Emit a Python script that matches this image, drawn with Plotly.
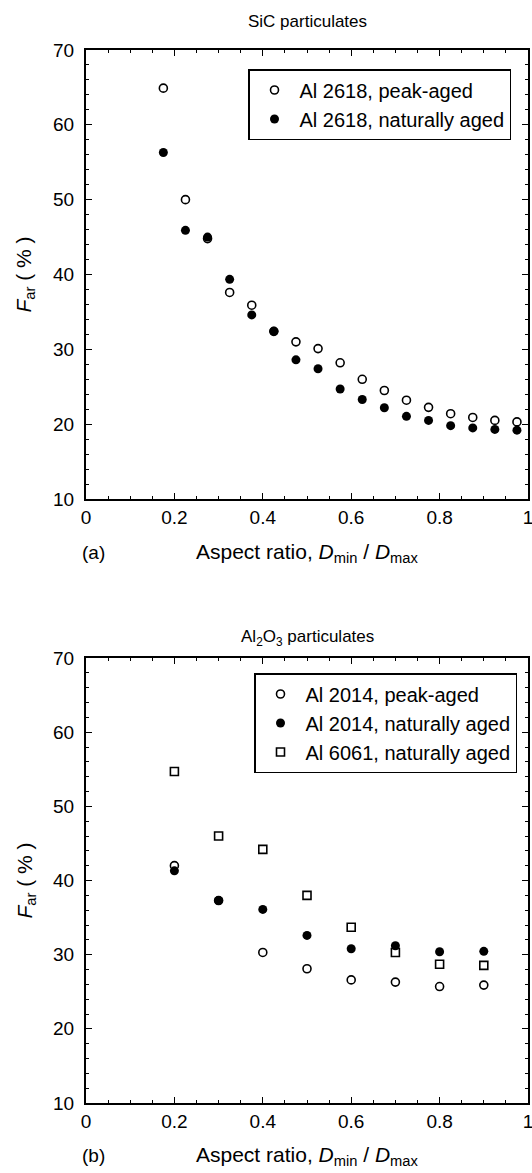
import plotly.graph_objects as go

# ---- Data (a) SiC particulates ----
x_a = [0.175, 0.225, 0.275, 0.325, 0.375, 0.425, 0.475, 0.525, 0.575,
       0.625, 0.675, 0.725, 0.775, 0.825, 0.875, 0.925, 0.975]
a_peak = [64.9, 50.0, 44.8, 37.6, 35.9, 32.4, 31.0, 30.1, 28.2,
          26.0, 24.5, 23.2, 22.25, 21.4, 20.9, 20.5, 20.3]
a_nat = [56.3, 45.9, 45.0, 39.35, 34.6, 32.4, 28.6, 27.4, 24.7,
         23.3, 22.2, 21.05, 20.5, 19.8, 19.5, 19.3, 19.2]

# ---- Data (b) Al2O3 particulates ----
x_b = [0.2, 0.3, 0.4, 0.5, 0.6, 0.7, 0.8, 0.9]
b_2014_peak = [42.0, 37.3, 30.3, 28.1, 26.6, 26.3, 25.7, 25.9]
b_2014_nat = [41.3, 37.3, 36.1, 32.6, 30.8, 31.2, 30.4, 30.45]
b_6061_nat = [54.7, 46.0, 44.2, 38.0, 33.7, 30.3, 28.7, 28.55]

x_ticks = [0, 0.2, 0.4, 0.6, 0.8, 1.0]
x_ticktext = ["0", "0.2", "0.4", "0.6", "0.8", "1"]
y_ticks = [10, 20, 30, 40, 50, 60, 70]

FONT = "Liberation Sans, Arial, Helvetica, sans-serif"
W, H = 532, 1173

fig = go.Figure()

open_marker = dict(symbol="circle-open", size=8, color="black", line=dict(width=1.6, color="black"))
fill_marker = dict(symbol="circle", size=9, color="black", line=dict(width=0))
sq_marker = dict(symbol="square-open", size=8, color="black", line=dict(width=1.6, color="black"))

fig.add_trace(go.Scatter(x=x_a, y=a_peak, mode="markers", marker=open_marker,
                         name="Al 2618, peak-aged", xaxis="x", yaxis="y", legend="legend"))
fig.add_trace(go.Scatter(x=x_a, y=a_nat, mode="markers", marker=fill_marker,
                         name="Al 2618, naturally aged", xaxis="x", yaxis="y", legend="legend"))

fig.add_trace(go.Scatter(x=x_b, y=b_2014_peak, mode="markers", marker=open_marker,
                         name="Al 2014, peak-aged", xaxis="x2", yaxis="y2", legend="legend2"))
fig.add_trace(go.Scatter(x=x_b, y=b_2014_nat, mode="markers", marker=fill_marker,
                         name="Al 2014, naturally aged", xaxis="x2", yaxis="y2", legend="legend2"))
fig.add_trace(go.Scatter(x=x_b, y=b_6061_nat, mode="markers", marker=sq_marker,
                         name="Al 6061, naturally aged", xaxis="x2", yaxis="y2", legend="legend2"))

def px_y(p):
    return 1 - p / H

def px_x(p):
    return p / W

L_PX, R_PX = 86, 528
xdom = [px_x(L_PX), px_x(R_PX)]
top_dom = [px_y(499), px_y(50)]
bot_dom = [px_y(1103), px_y(658)]
xmid = (xdom[0] + xdom[1]) / 2

xtitle = "Aspect ratio, <i>D</i><sub>min</sub> / <i>D</i><sub>max</sub>"
ytitle = "<i>F</i><sub>ar</sub> ( % )"

common_x = dict(range=[0, 1], tickvals=x_ticks, ticktext=x_ticktext, showgrid=False, zeroline=False,
                showline=True, linecolor="black", linewidth=2, mirror="ticks", automargin=False,
                ticklabeloverflow="allow",
                ticks="inside", ticklen=6, tickwidth=1.2, tickcolor="black",
                minor=dict(ticks="inside", ticklen=3, dtick=0.05, tickcolor="black", tickwidth=1),
                tickfont=dict(size=19, color="black", family=FONT))
common_y = dict(range=[10, 70], tickvals=y_ticks, showgrid=False, zeroline=False,
                showline=True, linecolor="black", linewidth=2, mirror="ticks", automargin=False,
                ticklabeloverflow="allow", ticklabelstandoff=6,
                ticks="inside", ticklen=6, tickwidth=1.2, tickcolor="black",
                minor=dict(ticks="inside", ticklen=3, dtick=2, tickcolor="black", tickwidth=1),
                tickfont=dict(size=19, color="black", family=FONT))

leg_common = dict(xanchor="right", yanchor="top", bordercolor="black", borderwidth=1.5,
                  bgcolor="white", font=dict(size=20, color="black", family=FONT),
                  tracegroupgap=0, itemwidth=40)

fig.update_layout(
    template="none",
    width=W, height=H,
    margin=dict(l=0, r=0, t=0, b=0, autoexpand=False),
    paper_bgcolor="white", plot_bgcolor="white",
    font=dict(family=FONT, color="black"),
    xaxis=dict(domain=xdom, anchor="y", **common_x),
    yaxis=dict(domain=top_dom, anchor="x", **common_y),
    xaxis2=dict(domain=xdom, anchor="y2", **common_x),
    yaxis2=dict(domain=bot_dom, anchor="x2", **common_y),
    legend=dict(x=px_x(511), y=px_y(69), **leg_common),
    legend2=dict(x=px_x(517), y=px_y(673), **leg_common),
    showlegend=True,
)

def txt(text, x, y, size, **kw):
    d = dict(text=text, x=x, y=y, xref="paper", yref="paper", showarrow=False,
             font=dict(size=size, color="black", family=FONT), xanchor="center", yanchor="middle")
    d.update(kw)
    return d

annots = [
    txt("SiC particulates", xmid, px_y(22), 17),
    txt("Al<sub>2</sub>O<sub>3</sub> particulates", xmid, px_y(638), 17),
    txt(xtitle, xmid, px_y(553), 21),
    txt(xtitle, xmid, px_y(1156), 21),
    txt("(a)", px_x(80), px_y(552), 19, xanchor="left"),
    txt("(b)", px_x(80), px_y(1155), 19, xanchor="left"),
    txt(ytitle, px_x(25), (top_dom[0] + top_dom[1]) / 2, 21, textangle=-90),
    txt(ytitle, px_x(25), (bot_dom[0] + bot_dom[1]) / 2, 21, textangle=-90),
]
fig.update_layout(annotations=annots)

fig.write_html("out.html", config={"displayModeBar": False},
               post_script="document.body.style.margin='0';document.body.style.padding='0';"
                           "document.documentElement.style.overflow='hidden';")
